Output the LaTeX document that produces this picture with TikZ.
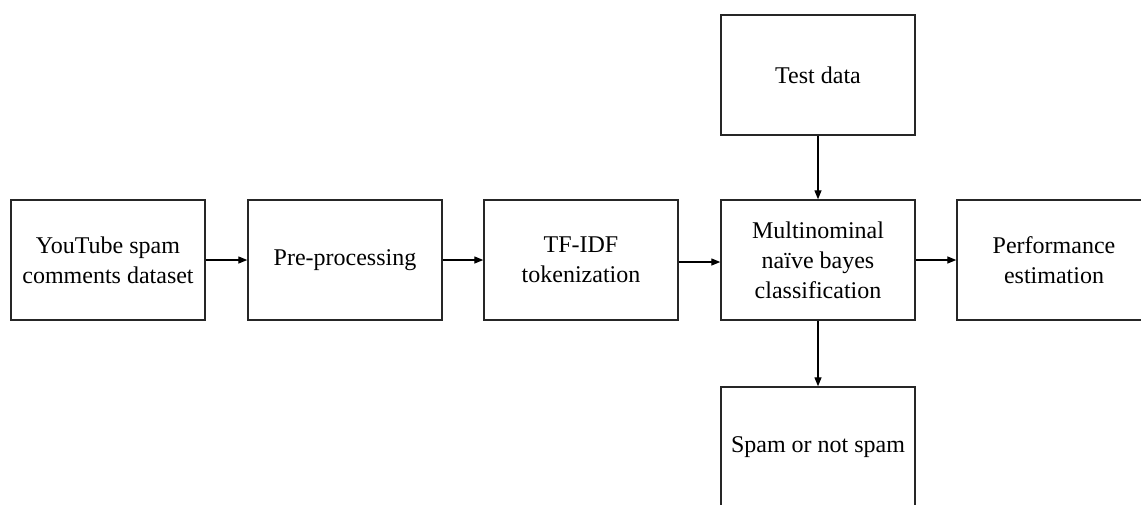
\documentclass[tikz,border=0pt]{standalone}
\usepackage{fontspec}
\setmainfont{Liberation Serif}
\usetikzlibrary{arrows.meta}
\tikzset{
  blk/.style={draw=black!85, line width=1.4pt, fill=white, minimum width=194pt, minimum height=120pt,
    align=center, inner sep=0pt, font=\fontsize{24}{30}\selectfont},
  conn/.style={draw=black, line width=1.3pt, -{Triangle[length=9pt,width=7pt]}}
}
\begin{document}
\begin{tikzpicture}[x=1pt,y=-1pt]
\useasboundingbox (0,0) rectangle (1141,504);
\fill[white] (0,0) rectangle (1141,504);
\clip (0,0) rectangle (1141,504);
\node[blk] (ds) at (108,260) {YouTube spam\\comments dataset};
\node[blk] (pp) at (345,260) {Pre-processing};
\node[blk] (tf) at (581,260) {TF-IDF\\tokenization};
\node[blk] (nb) at (818,260) {Multinominal\\naïve bayes\\classification};
\node[blk] (pe) at (1054,260) {Performance\\estimation};
\node[blk] (td) at (818,75) {Test data};
\node[blk] (sp) at (818,447) {Spam or not spam};
\draw[conn] (ds) -- (pp);
\draw[conn] (pp) -- (tf);
\draw[conn] ([yshift=-2pt]tf.east) -- ([yshift=-2pt]nb.west);
\draw[conn] (nb) -- (pe);
\draw[conn] (td) -- (nb);
\draw[conn] (nb) -- (sp);
\end{tikzpicture}
\end{document}
